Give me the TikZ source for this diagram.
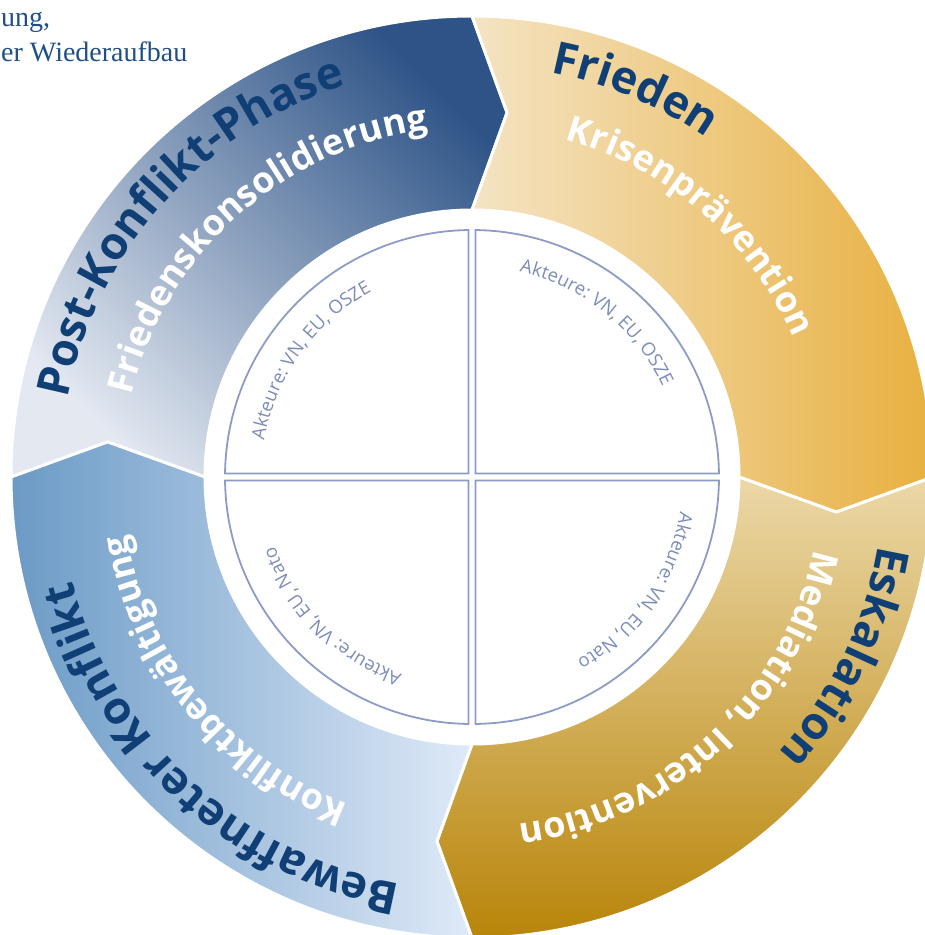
\documentclass[tikz,border=0pt]{standalone}
\usepackage{fontspec}
\usepackage{tikz}
\usetikzlibrary{decorations.text}
\setmainfont{Liberation Serif}
\newfontfamily\sansfam{Open Sans}
\definecolor{hexcolor0x2e5487}{rgb}{0.180,0.329,0.529}
\definecolor{hexcolor0xe3e8f1}{rgb}{0.890,0.910,0.945}
\definecolor{hexcolor0xf4e4c4}{rgb}{0.957,0.894,0.769}
\definecolor{hexcolor0xe8b040}{rgb}{0.910,0.690,0.251}
\definecolor{hexcolor0xecd8a8}{rgb}{0.925,0.847,0.659}
\definecolor{hexcolor0xb8850a}{rgb}{0.722,0.522,0.039}
\definecolor{hexcolor0x6b9ac6}{rgb}{0.420,0.604,0.776}
\definecolor{hexcolor0xdfeaf8}{rgb}{0.875,0.918,0.973}
\definecolor{hexcolor0x0f3f75}{rgb}{0.059,0.247,0.459}
\definecolor{hexcolor0x8d9cc6}{rgb}{0.553,0.612,0.776}
\definecolor{hexcolor0x7d8db8}{rgb}{0.490,0.553,0.722}
\definecolor{hexcolor0x1f4f85}{rgb}{0.122,0.310,0.522}
\newcommand\phasefont{\sansfam\bfseries\fontsize{45}{45}\selectfont\color{hexcolor0x0f3f75}}
\newcommand\taskfont{\sansfam\bfseries\fontsize{36}{36}\selectfont\color{white}}
\newcommand\actorfont{\sansfam\fontsize{18.5}{18.5}\selectfont\color{hexcolor0x7d8db8}}
\tikzstyle{segment}=[draw=white,line width=3pt,line join=miter]
\tikzstyle{quadrant}=[fill=white,draw=hexcolor0x8d9cc6,line width=1.8pt]
\tikzstyle{note}=[text=hexcolor0x1f4f85,inner sep=0pt,anchor=base west,font=\fontsize{28}{28}\selectfont]
\tikzstyle{arctext}=[decorate,decoration={text along path}]

\begin{document}
\begin{tikzpicture}
	\useasboundingbox (-472pt,-458pt) rectangle (453pt,477pt);
	% outer ring
		\draw [style=segment,bottom color=hexcolor0xe3e8f1,top color=hexcolor0x2e5487,shading angle=-45] (180:461pt) arc[start angle=180,end angle=90,radius=461pt] -- (84.5:366pt) -- (90:267pt) arc[start angle=90,end angle=180,radius=267pt] -- (174.5:366pt) -- cycle;
		\draw [style=segment,left color=hexcolor0xf4e4c4,right color=hexcolor0xe8b040] (90:461pt) arc[start angle=90,end angle=0,radius=461pt] -- (-5.5:366pt) -- (0:267pt) arc[start angle=0,end angle=90,radius=267pt] -- (84.5:366pt) -- cycle;
		\draw [style=segment,top color=hexcolor0xecd8a8,bottom color=hexcolor0xb8850a] (0:461pt) arc[start angle=0,end angle=-90,radius=461pt] -- (-95.5:366pt) -- (-90:267pt) arc[start angle=-90,end angle=0,radius=267pt] -- (-5.5:366pt) -- cycle;
		\draw [style=segment,left color=hexcolor0x6b9ac6,right color=hexcolor0xdfeaf8] (-90:461pt) arc[start angle=-90,end angle=-180,radius=461pt] -- (-185.5:366pt) -- (-180:267pt) arc[start angle=-180,end angle=-90,radius=267pt] -- (-95.5:366pt) -- cycle;
	% phases
		\path [style=arctext,decoration={text={|\phasefont|Post-Konflikt-Phase}}] (169:412pt) arc[start angle=169,end angle=75,radius=412pt];
		\path [style=arctext,decoration={text={|\phasefont|Frieden}}] (79:412pt) arc[start angle=79,end angle=-10,radius=412pt];
		\path [style=arctext,decoration={text={|\phasefont|Eskalation}}] (-9.5:412pt) arc[start angle=-9.5,end angle=-99,radius=412pt];
		\path [style=arctext,decoration={text={|\phasefont|Bewaffneter Konflikt}}] (-100:413pt) arc[start angle=-100,end angle=-192,radius=413pt];
	% tasks
		\path [style=arctext,decoration={text={|\taskfont|Friedenskonsolidierung}}] (166.5:350pt) arc[start angle=166.5,end angle=80,radius=350pt];
		\path [style=arctext,decoration={text={|\taskfont|Krisenprävention}}] (74.6:350pt) arc[start angle=74.6,end angle=-10,radius=350pt];
		\path [style=arctext,decoration={text={|\taskfont|Mediation, Intervention}}] (-12:350pt) arc[start angle=-12,end angle=-100,radius=350pt];
		\path [style=arctext,decoration={text={|\taskfont|Konfliktbewältigung}}] (-110.7:350pt) arc[start angle=-110.7,end angle=-195,radius=350pt];
	% inner disc
		\draw [style=quadrant] (-3.5pt,3.5pt) -- (90.8:247pt) arc[start angle=90.8,end angle=179.2,radius=247pt] -- cycle;
		\draw [style=quadrant] (3.5pt,3.5pt) -- (89.2:247pt) arc[start angle=89.2,end angle=0.8,radius=247pt] -- cycle;
		\draw [style=quadrant] (3.5pt,-3.5pt) -- (-89.2:247pt) arc[start angle=-89.2,end angle=-0.8,radius=247pt] -- cycle;
		\draw [style=quadrant] (-3.5pt,-3.5pt) -- (-90.8:247pt) arc[start angle=-90.8,end angle=-179.2,radius=247pt] -- cycle;
		\path [style=arctext,decoration={text={|\actorfont|Akteure: VN, EU, OSZE}}] (170:211pt) arc[start angle=170,end angle=95,radius=211pt];
		\path [style=arctext,decoration={text={|\actorfont|Akteure: VN, EU, OSZE}}] (77:211pt) arc[start angle=77,end angle=5,radius=211pt];
		\path [style=arctext,decoration={text={|\actorfont|Akteure: VN, EU, Nato}}] (-9.5:211pt) arc[start angle=-9.5,end angle=-85,radius=211pt];
		\path [style=arctext,decoration={text={|\actorfont|Akteure: VN, EU, Nato}}] (-109.5:209pt) arc[start angle=-109.5,end angle=-185,radius=209pt];
	% cut-off caption
		\node [style=note] (0) at (-471pt,450pt) {ung,};
		\node [style=note] (1) at (-471pt,415pt) {er Wiederaufbau};
\end{tikzpicture}
\end{document}
